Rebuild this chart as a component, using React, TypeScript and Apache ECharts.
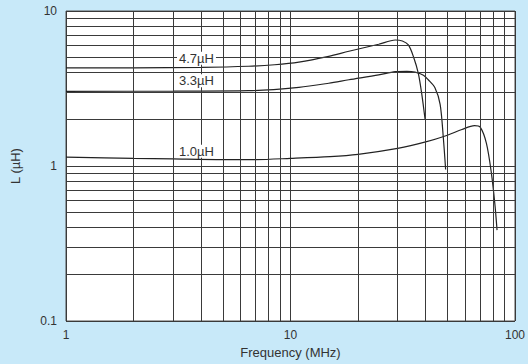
import React, { useEffect, useRef } from "react";
import * as echarts from "echarts";

const f47 = [1, 2, 4, 6.5, 8.5, 10.9, 14.8, 18.2, 24.7, 29.3, 31.5, 33.5, 35.3, 37.1, 38.4, 39.8];
const L47 = [4.29, 4.3, 4.33, 4.4, 4.5, 4.68, 5.1, 5.5, 6.1, 6.5, 6.4, 6.04, 5.07, 3.96, 2.94, 1.98];

const f33 = [1, 3, 6.5, 10.9, 14.8, 18.2, 24.7, 29.3, 33, 35.9, 39.1, 41.1, 44, 46.4, 47.9, 49.1];
const L33 = [3.03, 3.04, 3.06, 3.22, 3.42, 3.6, 3.87, 4.06, 4.08, 4.03, 3.85, 3.6, 3.2, 2.5, 1.55, 0.95];

const f10 = [1, 2, 3, 5, 7, 10, 15, 20, 30, 40, 50, 58, 66, 70, 74.6, 78.5, 81.3, 83.2];
const L10 = [1.14, 1.12, 1.11, 1.1, 1.1, 1.12, 1.15, 1.19, 1.3, 1.43, 1.58, 1.72, 1.82, 1.78, 1.4, 0.9, 0.574, 0.386];

const seriesNames = ["4.7µH", "3.3µH", "1.0µH"];
const xMinorTicks = [2, 3, 4, 5, 6, 7, 8, 9, 20, 30, 40, 50, 60, 70, 80, 90];
const yMinorTicks = [0.2, 0.3, 0.4, 0.5, 0.6, 0.7, 0.8, 0.9, 2, 3, 4, 5, 6, 7, 8, 9];

const FONT = "Liberation Sans, Arial, Helvetica, sans-serif";

export default function App() {
  const ref = useRef<HTMLDivElement>(null);
  useEffect(() => {
    if (!ref.current) return;
    document.body.style.margin = "0";
    const chart = echarts.init(ref.current, undefined, { renderer: "svg" });
    const zip = (xs: number[], ys: number[]) => xs.map((x, i) => [x, ys[i]]);
    const lineStyle = { color: "#222", width: 1.2 };
    const gridLine = { color: "#3a3a3a", width: 1, type: "solid" as const };
    chart.setOption({
      animation: false,
      backgroundColor: "#c8e9f9",
      textStyle: { fontFamily: FONT },
      grid: {
        left: 66,
        right: 11,
        top: 11,
        bottom: 43,
        show: true,
        backgroundColor: "#fff",
        borderColor: "#555",
        borderWidth: 1,
      },
      xAxis: {
        type: "log",
        logBase: 10,
        min: 1,
        max: 100,
        name: "Frequency (MHz)",
        nameLocation: "middle",
        nameGap: 24,
        nameTextStyle: { color: "#333", fontSize: 13, fontFamily: FONT },
        axisLine: { show: false },
        axisTick: { show: false },
        axisLabel: { color: "#333", fontSize: 12, margin: 8, fontFamily: FONT },
        splitLine: { show: true, lineStyle: gridLine },
      },
      yAxis: {
        type: "log",
        logBase: 10,
        min: 0.1,
        max: 10,
        name: "L (µH)",
        nameLocation: "middle",
        nameGap: 44,
        nameTextStyle: { color: "#333", fontSize: 13, fontFamily: FONT },
        axisLine: { show: false },
        axisTick: { show: false },
        axisLabel: {
          color: "#333",
          fontSize: 12,
          margin: 9,
          fontFamily: FONT,
          formatter: (v: number) => (v < 1 ? v.toFixed(1) : String(Math.round(v))),
        },
        splitLine: { show: true, lineStyle: gridLine },
      },
      series: [
        {
          type: "line",
          name: "grid",
          data: [],
          silent: true,
          markLine: {
            silent: true,
            symbol: ["none", "none"],
            label: { show: false },
            lineStyle: gridLine,
            data: [
              ...xMinorTicks.map((v) => ({ xAxis: v })),
              ...yMinorTicks.map((v) => ({ yAxis: v })),
            ],
          },
        },
        {
          type: "line",
          name: seriesNames[0],
          data: zip(f47, L47),
          showSymbol: false,
          smooth: 0.3,
          lineStyle,
          z: 3,
        },
        {
          type: "line",
          name: seriesNames[1],
          data: zip(f33, L33),
          showSymbol: false,
          smooth: 0.3,
          lineStyle,
          z: 3,
        },
        {
          type: "line",
          name: seriesNames[2],
          data: zip(f10, L10),
          showSymbol: false,
          smooth: 0.3,
          lineStyle,
          z: 3,
        },
      ],
      graphic: [
        { y: 58.3, text: seriesNames[0] },
        { y: 80.7, text: seriesNames[1] },
        { y: 151.3, text: seriesNames[2] },
      ].map((l) => ({
        type: "text",
        x: 177,
        y: l.y,
        z: 100,
        style: {
          text: l.text,
          fill: "#333",
          fontSize: 13,
          fontFamily: FONT,
          verticalAlign: "middle",
          align: "left",
          backgroundColor: "#fff",
          padding: [0, 2],
        },
      })),
    });
    return () => chart.dispose();
  }, []);
  return <div ref={ref} style={{ width: 528, height: 364 }} />;
}
